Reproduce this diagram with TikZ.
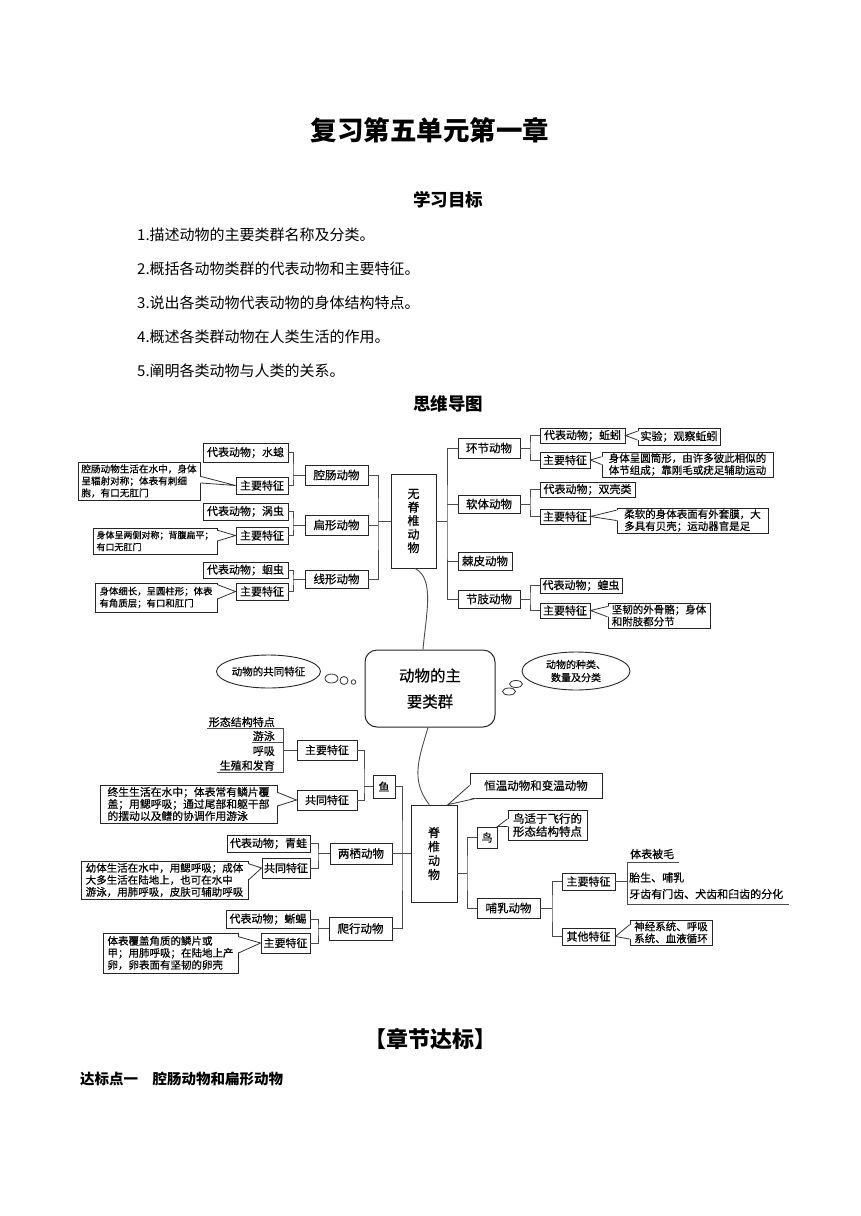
\documentclass[tikz,border=0pt]{standalone}
\usepackage{fontspec}
\setmainfont{Noto Sans CJK SC}
\newfontfamily\mmf[FakeBold=0.45]{Noto Sans CJK SC}
\usetikzlibrary{shapes.geometric,calc,shadows}
\newcommand{\myfs}[2]{\fontsize{#1}{#2}\selectfont}
\newcommand{\mf}[2]{\mmf\fontsize{#1}{#2}\selectfont}
\newcommand{\BX}[7][]{\node[box,minimum width={(#5-#3)*1pt},minimum height={(#6-#4)*1pt},#1] (#2) at ({(#3+#5)/2},{(#4+#6)/2}) {#7};}
\newcommand{\wR}[4]{%
 \fill[white] ($(#1.north east)!#2!(#1.south east)+(-1.3,0)$) -- (#4) -- ($(#1.north east)!#3!(#1.south east)+(-1.3,0)$) -- cycle;
 \draw[cl] ($(#1.north east)!#2!(#1.south east)$) -- (#4) -- ($(#1.north east)!#3!(#1.south east)$);}
\newcommand{\wL}[4]{%
 \fill[white] ($(#1.north west)!#2!(#1.south west)+(1.3,0)$) -- (#4) -- ($(#1.north west)!#3!(#1.south west)+(1.3,0)$) -- cycle;
 \draw[cl] ($(#1.north west)!#2!(#1.south west)$) -- (#4) -- ($(#1.north west)!#3!(#1.south west)$);}
\tikzset{
 box/.style={draw=black!85, line width=0.9pt, fill=white, inner sep=0pt, align=center, font=\mf{11}{13},
   general shadow={shadow xshift=1pt, shadow yshift=-1pt, fill=black!45}},
 cat/.style={font=\mf{11.5}{13}},
 note/.style={font=\mf{10.5}{12}, align=left},
 vert/.style={font=\mf{12}{13.5}},
 cl/.style={draw=black!80, line width=0.8pt},
 ln/.style={draw=black!70, line width=0.9pt},
 tx/.style={font=\mf{11}{13}, inner sep=0pt},
}
\begin{document}
\begin{tikzpicture}[x=1pt,y=-1pt]
\fill[white] (0,0) rectangle (860,1216);
\useasboundingbox (0,0) rectangle (860,1216);

% ---------- header ----------
\node[font=\bfseries\myfs{26.5}{28}] (title) at (430,130) {复习第五单元第一章};
\node[font=\bfseries\myfs{17.5}{19}] (goal) at (448,200) {学习目标};
\node[anchor=west, font=\myfs{15}{17}, inner sep=0pt] (g1) at (137,235) {1.描述动物的主要类群名称及分类。};
\node[anchor=west, font=\myfs{15}{17}, inner sep=0pt] (g2) at (137,269) {2.概括各动物类群的代表动物和主要特征。};
\node[anchor=west, font=\myfs{15}{17}, inner sep=0pt] (g3) at (137,303) {3.说出各类动物代表动物的身体结构特点。};
\node[anchor=west, font=\myfs{15}{17}, inner sep=0pt] (g4) at (137,337) {4.概述各类群动物在人类生活的作用。};
\node[anchor=west, font=\myfs{15}{17}, inner sep=0pt] (g5) at (137,371) {5.阐明各类动物与人类的关系。};
\node[font=\bfseries\myfs{17.5}{19}] (mm) at (448,404) {思维导图};

% ---------- invertebrates, left ----------
\BX{dbA}{203}{443}{288}{462}{代表动物；水螅}
\BX{zyA}{236}{477}{288}{494}{主要特征}
\BX[cat]{qc}{305}{465}{368}{485}{腔肠动物}
\BX[note,font=\mf{9.6}{12}]{ntA}{78}{462}{200}{500}{腔肠动物生活在水中，身体\\呈辐射对称；体表有刺细\\胞，有口无肛门}
\BX{dbB}{203}{503}{288}{520}{代表动物；涡虫}
\BX{zyB}{236}{527}{288}{544}{主要特征}
\BX[cat]{bx}{305}{515}{368}{535}{扁形动物}
\BX[note,font=\mf{9}{12}]{ntB}{93}{528}{217}{554}{身体呈两侧对称；背腹扁平；\\有口无肛门}
\BX{dbC}{203}{562}{288}{578}{代表动物；蛔虫}
\BX{zyC}{236}{583}{288}{600}{主要特征}
\BX[cat]{xx}{305}{570}{368}{588}{线形动物}
\BX[note,font=\mf{9.4}{12}]{ntC}{95}{583}{217}{612}{身体细长，呈圆柱形；体表\\有角质层；有口和肛门}
\BX[vert]{wjz}{391}{474}{436}{568}{无\\脊\\椎\\动\\物}

\coordinate (jA) at (293,475);
\draw[ln] (dbA.east) -| (jA) |- (zyA.east); \draw[ln] (jA) -- (qc.west);
\coordinate (jB) at (293,525);
\draw[ln] (dbB.east) -| (jB) |- (zyB.east); \draw[ln] (jB) -- (bx.west);
\coordinate (jC) at (293,579);
\draw[ln] (dbC.east) -| (jC) |- (zyC.east); \draw[ln] (jC) -- (xx.west);
\coordinate (jW) at (378,521);
\draw[ln] (qc.east) -| (jW) |- (xx.east);
\draw[ln] (bx.east) -- (bx.east -| jW);
\draw[ln] (jW) -- (wjz.west);
\wR{ntA}{0.38}{0.55}{zyA.west}
\wR{ntB}{0.1}{0.5}{zyB.west}
\wR{ntC}{0.07}{0.55}{zyC.west}

% ---------- invertebrates, right ----------
\BX[cat]{hj}{458}{438}{520}{458}{环节动物}
\BX{dbD}{540}{428}{625}{443}{代表动物；蚯蚓}
\BX{syD}{638}{428}{720}{445}{实验；观察蚯蚓}
\BX{zyD}{540}{452}{590}{468}{主要特征}
\BX[note]{ntD}{602}{452}{773}{477}{身体呈圆筒形，由许多彼此相似的\\体节组成；靠刚毛或疣足辅助运动}
\BX[cat]{rt}{458}{495}{520}{513}{软体动物}
\BX{dbE}{540}{482}{635}{497}{代表动物；双壳类}
\BX{zyE}{540}{509}{590}{524}{主要特征}
\BX[note]{ntE}{617}{508}{768}{533}{柔软的身体表面有外套膜，大\\多具有贝壳；运动器官是足}
\BX[cat]{jp}{458}{552}{512}{570}{棘皮动物}
\BX[cat]{jz}{458}{590}{520}{608}{节肢动物}
\BX{dbF}{540}{578}{622}{593}{代表动物；蝗虫}
\BX{zyF}{540}{603}{590}{618}{主要特征}
\BX[note]{ntF}{608}{603}{710}{628}{坚韧的外骨骼；身体\\和附肢都分节}

\coordinate (jD) at (530,448);
\draw[ln] (dbD.west) -| (jD) |- (zyD.west); \draw[ln] (hj.east) -- (jD);
\coordinate (jE) at (530,504);
\draw[ln] (dbE.west) -| (jE) |- (zyE.west); \draw[ln] (rt.east) -- (jE);
\coordinate (jF) at (530,599);
\draw[ln] (dbF.west) -| (jF) |- (zyF.west); \draw[ln] (jz.east) -- (jF);
\coordinate (jWR) at (447,521);
\draw[ln] (hj.west) -| (jWR) |- (jz.west);
\draw[ln] (rt.west) -- (rt.west -| jWR);
\draw[ln] (jp.west) -- (jp.west -| jWR);
\draw[ln] (wjz.east) -- (jWR);
\wL{syD}{0.2}{0.7}{dbD.east}
\wL{ntD}{0.2}{0.5}{zyD.east}
\wL{ntE}{0.1}{0.5}{zyE.east}
\wL{ntF}{0.15}{0.55}{zyF.east}

% ---------- centre ----------
\node[draw=black!85, line width=1pt, rounded corners=12pt, minimum width=130pt, minimum height=77pt, inner sep=0pt, align=center, font=\mf{15.5}{26}] (ctr) at (430,688.5) {动物的主\\要类群};
\node[ellipse, draw=black!85, line width=0.9pt, minimum width=103pt, minimum height=33pt, inner sep=0pt, font=\mf{10.5}{12}] (elL) at (268.5,671.5) {动物的共同特征};
\node[ellipse, draw=black!85, line width=0.9pt, minimum width=108pt, minimum height=38pt, inner sep=0pt, align=center, font=\mf{10}{13}] (elR) at (576,671) {动物的种类、\\数量及分类};
\draw[cl] (331.5,678.5) ellipse [x radius=6.5, y radius=4.5];
\draw[cl] (344,680.5) circle [radius=4];
\draw[cl] (353.5,682) circle [radius=2.3];
\draw[cl] (516,684) ellipse [x radius=6.5, y radius=3.5];
\draw[cl] (509,691.5) ellipse [x radius=6.5, y radius=3.5];

\draw[ln] ($(wjz.south)+(1.5,0)$) .. controls +(20,10) and +(3,-35) .. ($(ctr.north)+(-7,0)$);

% ---------- vertebrates ----------
\BX[vert,font=\mf{12}{14}]{jzd}{411}{805}{457}{902}{脊\\椎\\动\\物}
\draw[ln] ($(ctr.south)+(-2,0)$) .. controls +(-8,28) and +(-20,-25) .. ($(jzd.north west)!0.4!(jzd.north east)$);

\BX[font=\mf{11.5}{13}]{hw}{470}{773}{602}{798}{恒温动物和变温动物}
\coordinate (tipH) at ($(jzd.north west)!0.8!(jzd.north east)$);
\fill[white] ($(hw.south west)+(1.5,-14)$) -- (tipH) -- ($(hw.south west)+(6,-1)$) -- ($(hw.south west)+(6,1.5)$) -- cycle;
\draw[cl] ($(hw.south west)+(0,-13)$) -- (tipH) -- ($(hw.south west)+(6,0)$);

\BX{niao}{477}{827}{497}{848}{鸟}
\BX[note,font=\mf{11.5}{13}]{ntN}{508}{810}{587}{840}{鸟适于飞行的\\形态结构特点}
\wL{ntN}{0.3}{0.55}{niao.north east}
\BX[cat]{br}{477}{898}{540}{918}{哺乳动物}
\BX{zyH}{562}{873}{615}{890}{主要特征}
\BX{qtH}{562}{928}{615}{945}{其他特征}
\BX[note]{ntQ}{630}{920}{712}{945}{神经系统、呼吸\\系统、血液循环}
\wL{ntQ}{0.2}{0.75}{qtH.east}

\node[tx, anchor=west] (t1) at (630,854) {体表被毛};
\node[tx, anchor=west] (t2) at (629,877.5) {胎生、哺乳};
\node[tx, anchor=west] (t3) at (629,894) {牙齿有门齿、犬齿和臼齿的分化};
\coordinate (uTop) at (627,862);
\coordinate (uBot) at (627,904);
\draw[ln] (679,862) -- (uTop) -- (uBot) -- (789,904);
\draw[ln] (zyH.east) -- (zyH.east -| uTop);

\coordinate (jH) at (552,908);
\draw[ln] (zyH.west) -| (jH) |- (qtH.west); \draw[ln] (br.east) -- (jH);
\coordinate (jJ) at (467,873);
\draw[ln] (niao.west) -| (jJ) |- (br.west); \draw[ln] (jzd.east |- jJ) -- (jJ);

% fish
\BX{yu}{373}{775}{395}{798}{鱼}
\BX{zyY}{297}{740}{357}{760}{主要特征}
\BX{gtY}{297}{790}{357}{810}{共同特征}
\coordinate (jY) at (364,786.5);
\draw[ln] (zyY.east) -| (jY) |- (gtY.east); \draw[ln] (jY) -- (yu.west);
\node[tx, anchor=east] (s1) at (275,722) {形态结构特点};
\node[tx, anchor=east] (s2) at (275,736) {游泳};
\node[tx, anchor=east] (s3) at (275,751) {呼吸};
\node[tx, anchor=east] (s4) at (275,765.5) {生殖和发育};
\coordinate (vY1) at (283,728);
\coordinate (vY2) at (283,772);
\draw[ln] (207,728) -- (vY1) -- (vY2) -- (217,772);
\draw[ln] (252,742) -- (vY1 |- 0,742);
\draw[ln] (zyY.west) -- (zyY.west -| vY1);
\BX[note,font=\mf{10.8}{12}]{ntY}{100}{785}{277}{823}{终生生活在水中；体表常有鳞片覆\\盖；用鳃呼吸；通过尾部和躯干部\\的摆动以及鳍的协调作用游泳}
\wR{ntY}{0.2}{0.55}{gtY.west}

% amphibians
\BX[cat]{lq}{330}{843}{392}{864}{两栖动物}
\BX{dbL}{227}{835}{310}{852}{代表动物；青蛙}
\BX{gtL}{262}{858}{310}{878}{共同特征}
\coordinate (jL) at (318,853.5);
\draw[ln] (dbL.east) -| (jL) |- (gtL.east); \draw[ln] (jL) -- (lq.west);
\BX[note]{ntL}{81}{861}{248}{899}{幼体生活在水中，用鳃呼吸；成体\\大多生活在陆地上，也可在水中\\游泳，用肺呼吸，皮肤可辅助呼吸}
\wR{ntL}{0.08}{0.5}{gtL.west}

% reptiles
\BX[cat]{px}{329}{917}{392}{940}{爬行动物}
\BX{dbP}{226}{910}{310}{928}{代表动物；蜥蜴}
\BX{zyP}{261}{933}{310}{953}{主要特征}
\coordinate (jP) at (318,928.5);
\draw[ln] (dbP.east) -| (jP) |- (zyP.east); \draw[ln] (jP) -- (px.west);
\BX[note]{ntP}{103}{933}{238}{973}{体表覆盖角质的鳞片或\\甲；用肺呼吸；在陆地上产\\卵，卵表面有坚韧的卵壳}
\wR{ntP}{0.1}{0.5}{zyP.west}

\coordinate (jV) at (402,853.5);
\draw[ln] (yu.east) -| (jV) |- (px.east);
\draw[ln] (lq.east) -- (jzd.west);

% ---------- footer ----------
\node[font=\bfseries\myfs{22}{24}] (zj) at (430,1039) {【章节达标】};
\node[anchor=west, inner sep=0pt, font=\bfseries\myfs{14.5}{16}] (dbd) at (80,1079) {达标点一　腔肠动物和扁形动物};
\end{tikzpicture}
\end{document}
